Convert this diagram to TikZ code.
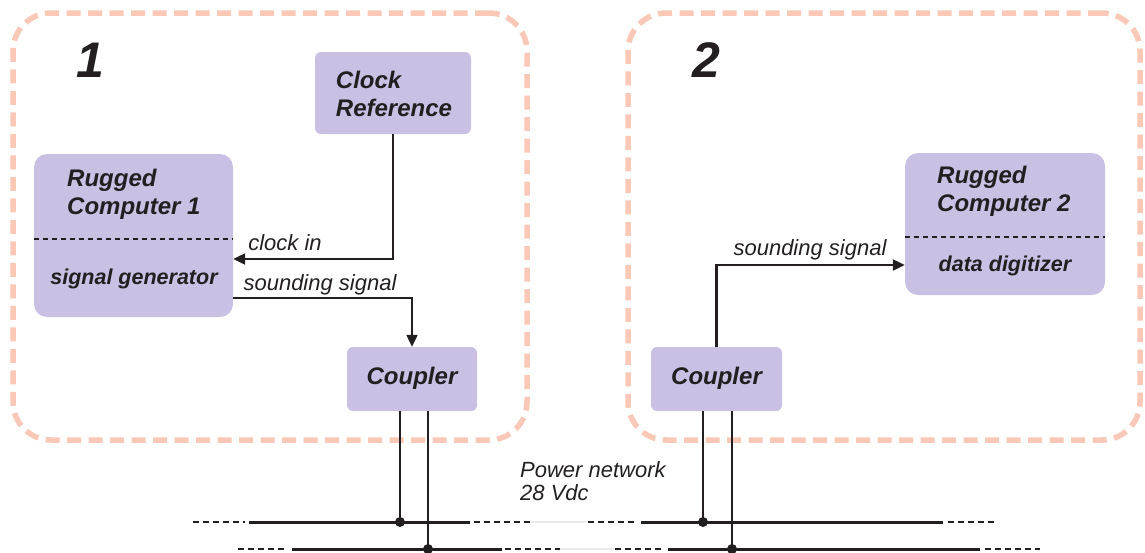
\documentclass[tikz,border=0pt]{standalone}
\usepackage{fontspec}
\setmainfont{Liberation Sans}
\usetikzlibrary{positioning,calc}
\usetikzlibrary{arrows.meta}
\definecolor{SitePeach}{RGB}{249,200,182}
\definecolor{BoxLilac}{RGB}{201,192,228}
\definecolor{WireInk}{RGB}{35,31,32}
\tikzset{
	site/.style={draw=SitePeach,line width=5.5pt,dash pattern=on 14pt off 7.5pt,rounded corners=38pt,inner sep=0pt},
	unit/.style={fill=BoxLilac,rounded corners=6pt,inner sep=0pt},
	pc/.style={unit,rounded corners=13pt},
	sitenum/.style={font=\fontsize{50}{50}\selectfont\bfseries\itshape,text=WireInk,inner sep=0pt},
	boxtext/.style={font=\fontsize{24}{28}\selectfont\bfseries\itshape,text=WireInk,align=left,inner sep=0pt},
	parttext/.style={font=\fontsize{21.5}{24}\selectfont\bfseries\itshape,text=WireInk,inner sep=0pt},
	lbl/.style={font=\fontsize{22}{23}\selectfont\itshape,text=WireInk,align=left,inner sep=0pt},
	divider/.style={draw=WireInk,line width=2pt,dash pattern=on 5pt off 4pt},
	wire/.style={draw=WireInk,line width=2.2pt},
	sig/.style={wire,-{Triangle[length=12pt,width=11pt]}},
	bus/.style={draw=WireInk,line width=3pt},
	busdash/.style={draw=WireInk,line width=2.8pt,dash pattern=on 5.5pt off 4.5pt},
	tap/.style={circle,fill=WireInk,inner sep=0pt,minimum size=10pt},
}

\begin{document}
\begin{tikzpicture}[x=1pt,y=-1pt]
	\useasboundingbox (0,0) rectangle (1145,552);

	% the two sites
	\node[site,minimum width=514pt,minimum height=427pt] (site1) at (270,226.5) {};
	\node[site,minimum width=512pt,minimum height=427pt] (site2) at (884,226.5) {};
	\node[sitenum] (num1) at (90,60) {1};
	\node[sitenum] (num2) at (706,60) {2};

	% site 1
	\node[unit,minimum width=156pt,minimum height=82pt] (clk) at (393,93) {};
	\node[boxtext] (clktext) at (394,94) {Clock\\Reference};
	\node[pc,minimum width=199pt,minimum height=163pt] (rc1) at (133.5,235.5) {};
	\node[boxtext,anchor=west] (rc1title) at (67,194) {Rugged\\Computer 1};
	\node[parttext] (rc1part) at (134,279) {signal generator};
	\draw[divider] (rc1.west |- 0,239) -- (rc1.east |- 0,239);
	\node[unit,minimum width=130pt,minimum height=64pt] (cp1) at (412,379) {};
	\node[boxtext] (cp1text) at (412,378) {Coupler};

	\draw[sig] (clk.south) |- ([yshift=-23.5pt]rc1.east);
	\node[lbl] (clkin) at (285,243) {clock in};
	\draw[sig] ([yshift=-62.5pt]rc1.east) -| (cp1.north);
	\node[lbl] (snd1) at (320,285) {sounding signal};

	% site 2
	\node[pc,minimum width=200pt,minimum height=142pt] (rc2) at (1005,224) {};
	\node[boxtext,anchor=west] (rc2title) at (937,191) {Rugged\\Computer 2};
	\node[parttext] (rc2part) at (1005,266) {data digitizer};
	\draw[divider] (rc2.west |- 0,237) -- (rc2.east |- 0,237);
	\node[unit,minimum width=131pt,minimum height=64pt] (cp2) at (716.5,379) {};
	\node[boxtext] (cp2text) at (716.5,378) {Coupler};

	\draw[sig] (cp2.north) |- ([yshift=-41pt]rc2.west);
	\node[lbl] (snd2) at (810,250) {sounding signal};

	% power network
	\node[lbl,anchor=west] (pwr) at (520,481) {Power network\\28 Vdc};
	\foreach \a/\b in {249/470,641/943}
		\draw[bus] (\a,522) -- (\b,522);
	\foreach \a/\b in {292/502,668/980}
		\draw[bus] (\a,549) -- (\b,549);
	\foreach \a/\b in {193/245,474/530,588/638,948/997}
		\draw[busdash] (\a,522) -- (\b,522);
	\foreach \a/\b in {238/288,505/560,615/665,985/1040}
		\draw[busdash] (\a,549) -- (\b,549);
	\draw[black!8,line width=2pt] (530,522) -- (586,522);
	\draw[black!8,line width=2pt] (560,549) -- (614,549);

	% couplers onto the bus
	\coordinate (t1a) at (400,522);
	\coordinate (t1b) at (428,549);
	\coordinate (t2a) at (703,522);
	\coordinate (t2b) at (732,549);
	\foreach \c/\t in {cp1/t1a,cp1/t1b,cp2/t2a,cp2/t2b}{
		\draw[wire] (\c.south -| \t) -- (\t);
		\node[tap] at (\t) {};
	}
\end{tikzpicture}
\end{document}
